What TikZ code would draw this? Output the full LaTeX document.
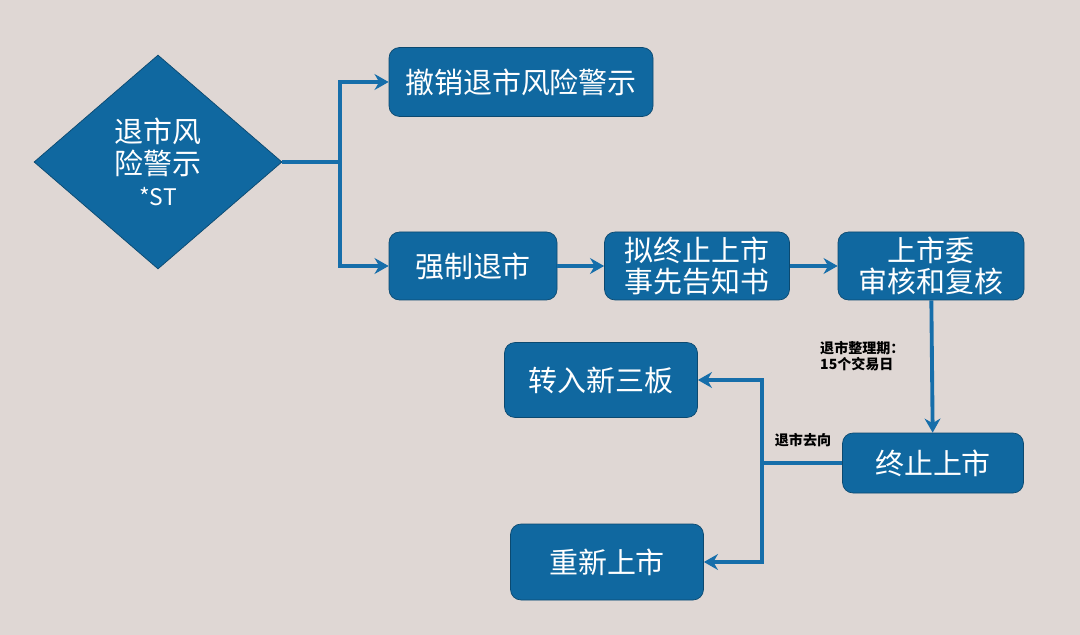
\documentclass[tikz,border=0pt]{standalone}
\usepackage{fontspec}
\setmainfont{Noto Sans CJK SC}
\usetikzlibrary{arrows.meta, shapes.geometric}
\definecolor{bgc}{RGB}{223,215,212}
\definecolor{boxc}{RGB}{16,104,160}
\definecolor{linec}{RGB}{22,110,170}
\tikzset{
  stepbox/.style={draw=boxc!70!black, fill=boxc, rounded corners=6pt, text=white,
    font=\fontsize{16.5}{18}\selectfont, align=center, inner sep=0pt},
  link/.style={draw=linec, line width=2.2pt, -{Stealth[length=8pt,width=9pt]}},
  note/.style={font=\fontsize{8}{9.5}\selectfont\bfseries, align=left}
}
\begin{document}
\begin{tikzpicture}[x=0.02cm, y=-0.02cm]
    % Background
    \fill[bgc] (0,0) rectangle (1080,635);
    \useasboundingbox (0,0) rectangle (1080,635);
    % Nodes
    \node[diamond, fill=boxc, draw=boxc!70!black, minimum width=248*0.02cm, minimum height=214*0.02cm,
      inner sep=0pt, text=white, align=center, font=\fontsize{16.5}{18}\selectfont] (st) at (158,162) {退市风\\险警示\\{\fontsize{13}{15}\selectfont *ST}};
    \node[stepbox, minimum width=264*0.02cm, minimum height=69*0.02cm] (cancel) at (521,82) {撤销退市风险警示};
    \node[stepbox, minimum width=168*0.02cm, minimum height=68*0.02cm] (force) at (473,266) {强制退市};
    \node[stepbox, minimum width=185*0.02cm, minimum height=68*0.02cm] (notice) at (697,266) {拟终止上市\\事先告知书};
    \node[stepbox, minimum width=186*0.02cm, minimum height=68*0.02cm] (review) at (931,266) {上市委\\审核和复核};
    \node[stepbox, minimum width=181*0.02cm, minimum height=60*0.02cm] (delist) at (933,463) {终止上市};
    \node[stepbox, minimum width=193*0.02cm, minimum height=75*0.02cm] (neeq) at (601,380) {转入新三板};
    \node[stepbox, minimum width=193*0.02cm, minimum height=76*0.02cm] (relist) at (607,562) {重新上市};
    % Split points
    \coordinate (s1) at (340,162);
    \coordinate (s2) at (762,463);
    % Connectors
    \draw[draw=linec, line width=2.2pt] (st.east) -- (s1);
    \draw[link] (s1) |- (cancel.west);
    \draw[link] (s1) |- (force.west);
    \draw[link] (force) -- (notice);
    \draw[link] (notice) -- (review);
    \draw[link] (review) -- (delist);
    \draw[draw=linec, line width=2.2pt] (delist.west) -- (s2);
    \draw[link] (s2) |- (neeq.east);
    \draw[link] (s2) |- (relist.east);
    % Labels
    \node[note, anchor=west] (period) at (814,356) {退市整理期：\\15个交易日};
    \node[note] (where) at (803,440) {退市去向};
\end{tikzpicture}
\end{document}
